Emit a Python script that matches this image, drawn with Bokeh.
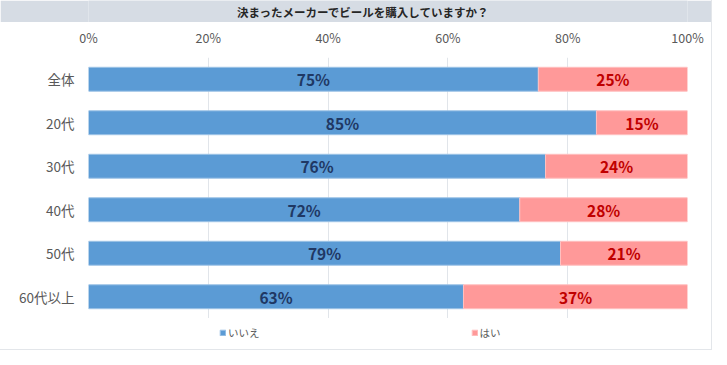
from bokeh.plotting import figure
from bokeh.layouts import column
from bokeh.models import ColumnDataSource, FactorRange, Range1d, FixedTicker, PrintfTickFormatter, Legend, LegendItem
from bokeh.core.properties import value
from bokeh.embed import file_html
from bokeh.resources import INLINE

title_text = "決まったメーカーでビールを購入していますか？"
categories = ["全体", "20代", "30代", "40代", "50代", "60代以上"]
no_vals = [75.1, 84.8, 76.3, 72.0, 78.8, 62.6]
yes_vals = [24.9, 15.2, 23.7, 28.0, 21.2, 37.4]
series_names = ["いいえ", "はい"]
x_ticks = [0, 20, 40, 60, 80, 100]

FONT = "Noto Sans CJK JP"
W = 711
BL, BR = 88, 24
NO_COLOR, NO_LINE = "#5b9bd5", "#9dc3e6"
YES_COLOR, YES_LINE = "#ff9999", "#ffc0c0"

# title bar (its frame is aligned with the main frame; range in figure pixels)
tf = figure(width=W, height=22, x_range=Range1d(BL, W - BR), y_range=Range1d(0, 1),
            output_backend="svg", toolbar_location=None, x_axis_type=None, y_axis_type=None,
            min_border_left=BL, min_border_right=BR, min_border_top=0, min_border_bottom=0,
            background_fill_color="#d6dce4", border_fill_color="#d6dce4",
            outline_line_color=None)
tf.grid.visible = False
tf.text(x=[363], y=[0.5], text=[title_text], text_align="center", text_baseline="middle",
        text_font=value(FONT), text_font_style="bold", text_font_size="11.5px", text_color="#262626")

src = ColumnDataSource(dict(
    cat=categories,
    no=no_vals,
    yes=yes_vals,
    end=[n + y for n, y in zip(no_vals, yes_vals)],
    no_mid=[n / 2 for n in no_vals],
    yes_mid=[n + y / 2 for n, y in zip(no_vals, yes_vals)],
    no_lbl=[f"{round(v)}%" for v in no_vals],
    yes_lbl=[f"{round(v)}%" for v in yes_vals],
))

p = figure(width=W, height=296, y_range=FactorRange(*list(reversed(categories))),
           x_range=Range1d(0, 100), x_axis_location="above",
           output_backend="svg", toolbar_location=None,
           min_border_left=BL, min_border_right=BR, min_border_top=35, min_border_bottom=0,
           outline_line_color=None, background_fill_color="white", border_fill_color="white")

p.hbar(y="cat", left=0, right="no", height=0.55, source=src,
       fill_color=NO_COLOR, line_color=NO_LINE, line_width=1)
p.hbar(y="cat", left="no", right="end", height=0.55, source=src,
       fill_color=YES_COLOR, line_color=YES_LINE, line_width=1)

p.text(x="no_mid", y="cat", text="no_lbl", source=src, text_align="center", text_baseline="middle",
       text_font=value(FONT), text_font_style="bold", text_font_size="15.5px", text_color="#1f3864")
p.text(x="yes_mid", y="cat", text="yes_lbl", source=src, text_align="center", text_baseline="middle",
       text_font=value(FONT), text_font_style="bold", text_font_size="15.5px", text_color="#c00000")

p.ygrid.visible = False
p.xgrid.ticker = FixedTicker(ticks=x_ticks)
p.xgrid.grid_line_color = "#e1e5ea"
p.xgrid.grid_line_width = 1

xa = p.xaxis[0]
xa.ticker = FixedTicker(ticks=x_ticks)
xa.formatter = PrintfTickFormatter(format="%d%%")
xa.axis_line_color = None
xa.major_tick_line_color = None
xa.minor_tick_line_color = None
xa.major_label_text_font = FONT
xa.major_label_text_font_size = "12.5px"
xa.major_label_text_color = "#595959"
xa.major_label_standoff = 5

ya = p.yaxis[0]
ya.axis_line_color = None
ya.major_tick_line_color = None
ya.minor_tick_line_color = None
ya.major_label_text_font = FONT
ya.major_label_text_font_size = "13.5px"
ya.major_label_text_color = "#595959"
ya.major_label_standoff = 8

# legend strip (frame aligned with the main frame)
lf = figure(width=W, height=31, x_range=Range1d(0, 100), y_range=Range1d(0, 1),
            output_backend="svg", toolbar_location=None, x_axis_type=None, y_axis_type=None,
            min_border_left=BL, min_border_right=BR, min_border_top=0, min_border_bottom=0,
            outline_line_color=None, background_fill_color="white", border_fill_color="white")
lf.grid.visible = False
l_no = lf.hbar(y="cat", left=0, right="no", height=0.5, source=src,
               fill_color=NO_COLOR, line_color=NO_LINE, visible=False)
l_yes = lf.hbar(y="cat", left="no", right="end", height=0.5, source=src,
                fill_color=YES_COLOR, line_color=YES_LINE, visible=False)
legend = Legend(items=[LegendItem(label=series_names[0], renderers=[l_no]),
                       LegendItem(label=series_names[1], renderers=[l_yes])],
                orientation="horizontal", location=(131, 9),
                glyph_width=7, glyph_height=7, label_standoff=2, spacing=211,
                padding=0, margin=0, border_line_color=None, background_fill_alpha=0,
                label_text_font=FONT, label_text_font_size="10.5px", label_text_color="#595959")
lf.add_layout(legend, "center")

layout = column(tf, p, lf, spacing=0, styles={"outline": "1px solid #e3e6ea"})

open("out.html", "w").write(file_html(layout, INLINE))
